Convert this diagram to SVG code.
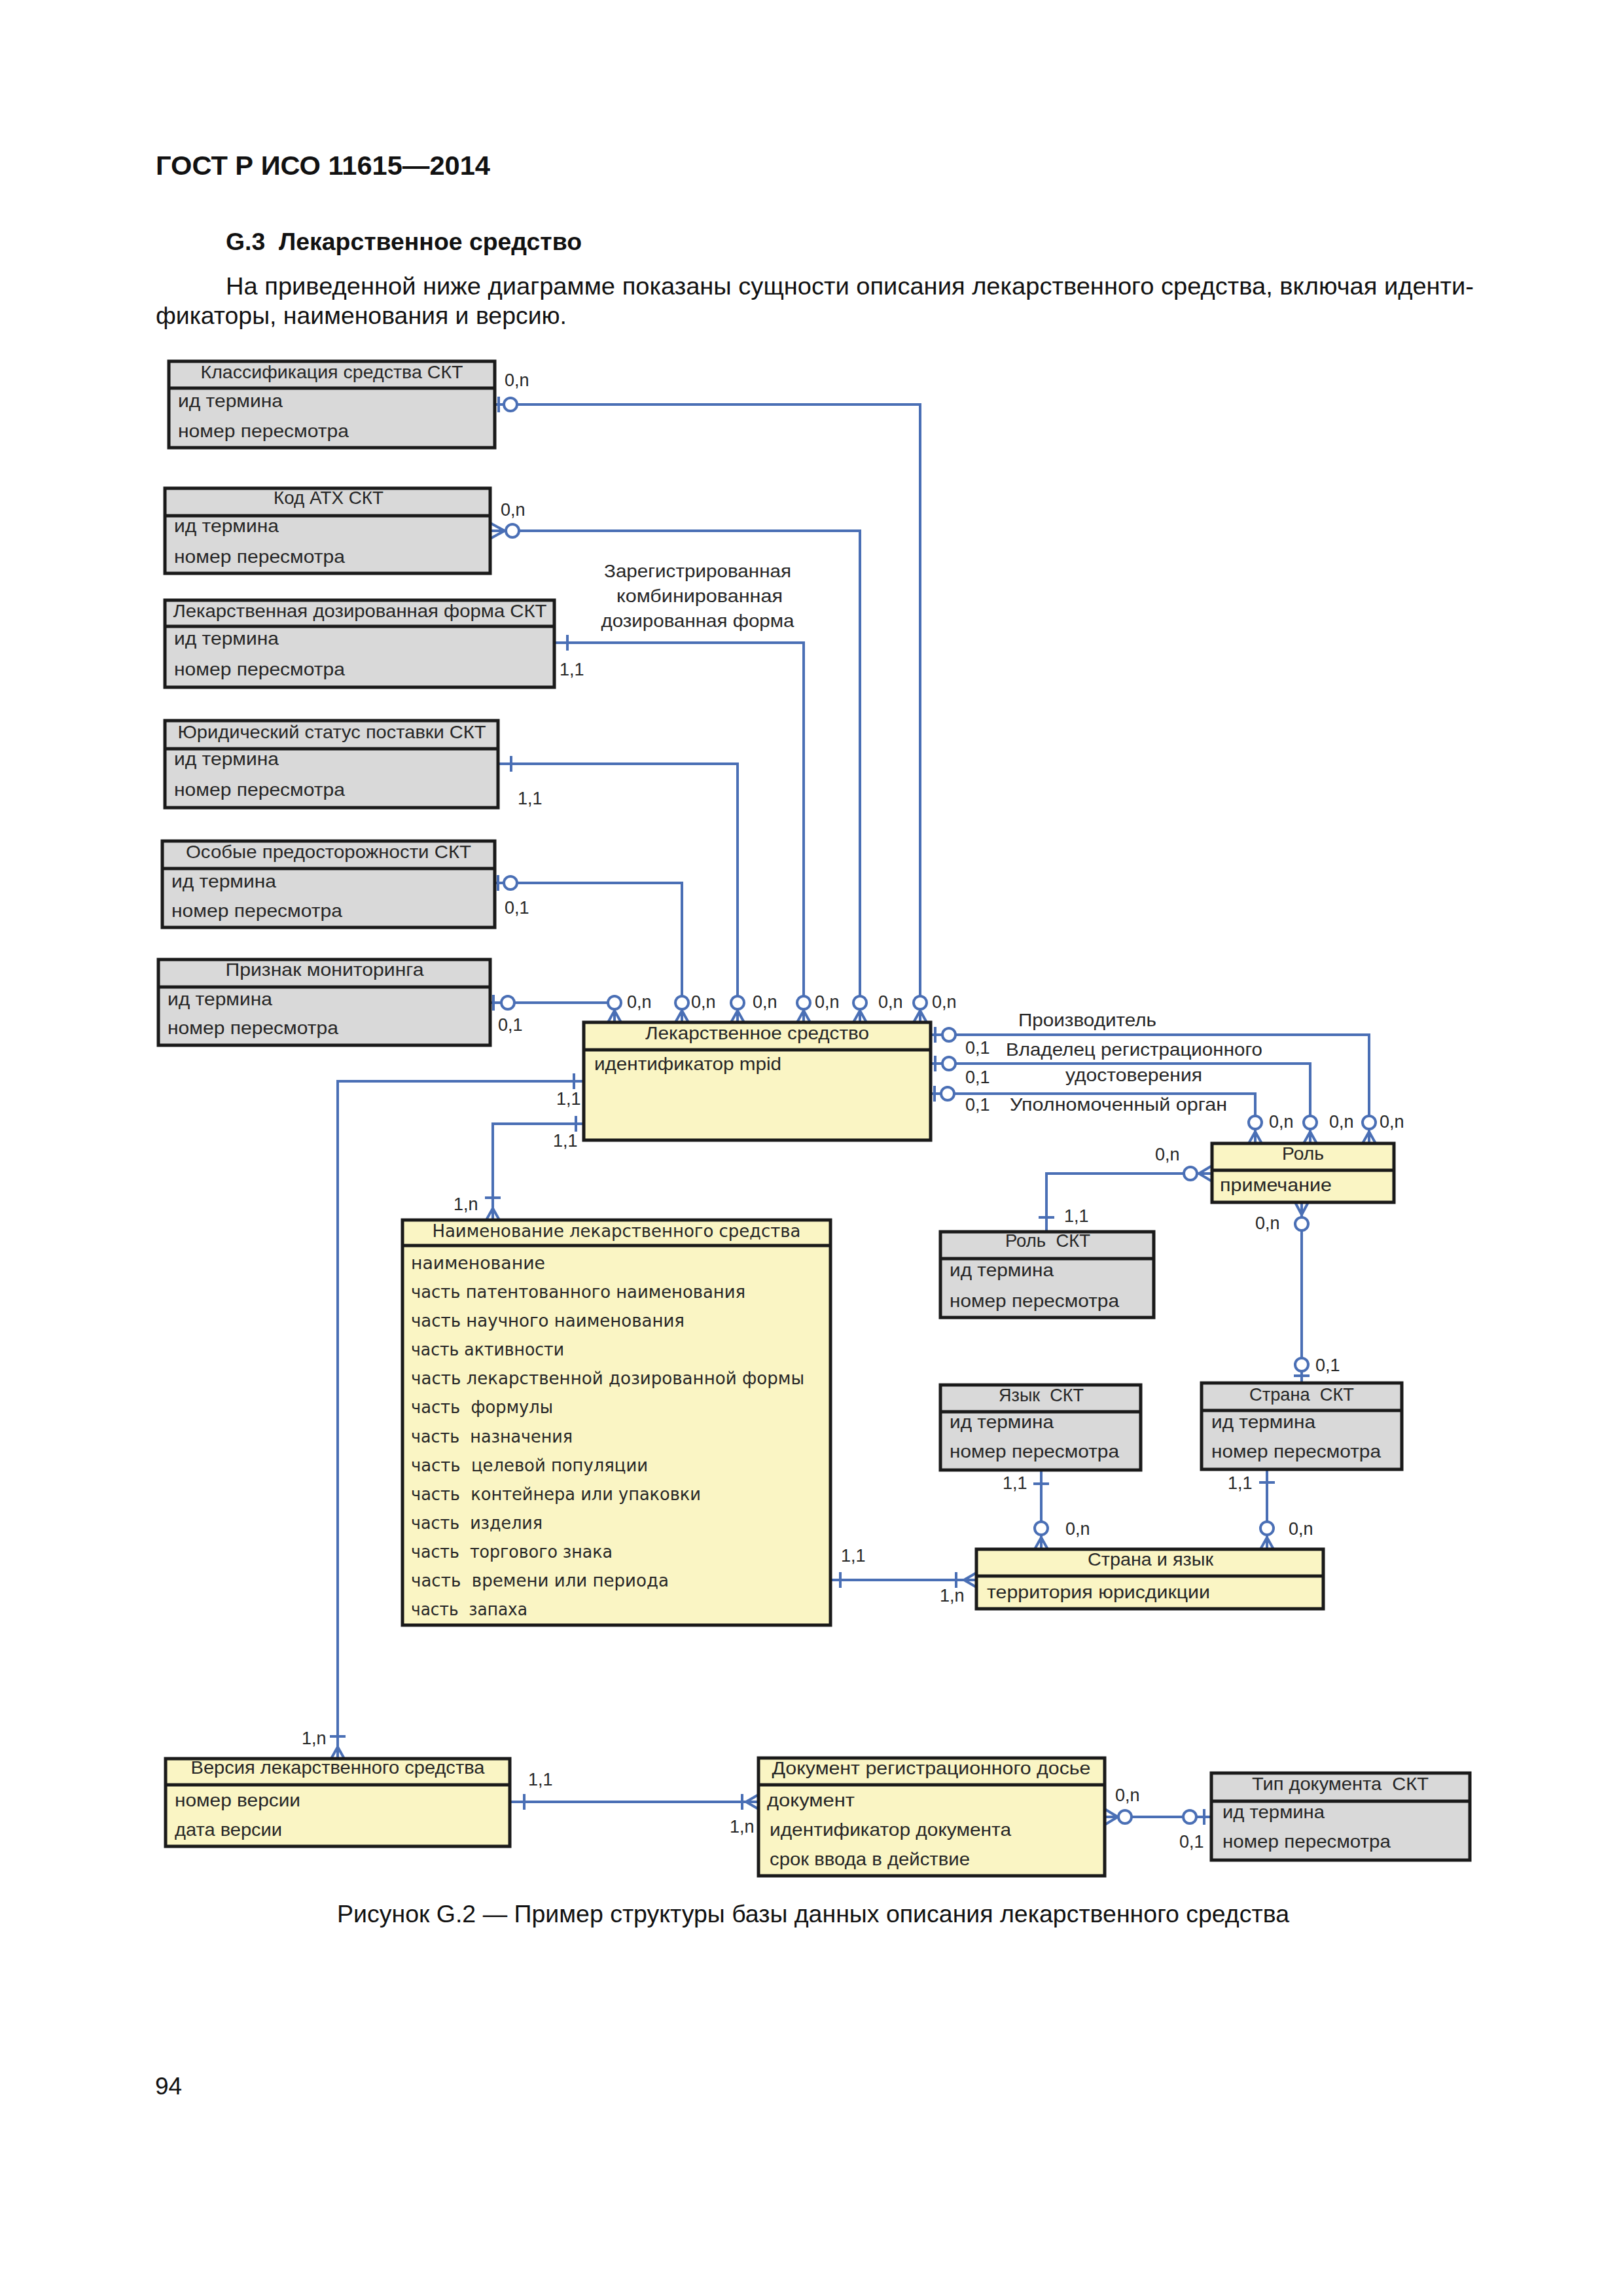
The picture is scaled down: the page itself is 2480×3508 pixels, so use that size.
<svg xmlns="http://www.w3.org/2000/svg" width="2480" height="3508" viewBox="0 0 2480 3508">
<style>
.bg{fill:#ffffff}
.eg{fill:#d9d9d9;stroke:#1a1a1a;stroke-width:5}
.ey{fill:#faf5c4;stroke:#1a1a1a;stroke-width:5}
.sep{stroke:#1a1a1a;stroke-width:5}
.con{stroke:#4a6fb5;stroke-width:4;fill:none}
.cir{stroke:#4a6fb5;stroke-width:4;fill:#ffffff}
.t{font-family:"Liberation Sans",Arial,sans-serif;font-size:28px;fill:#262626}
.h{text-anchor:middle}
.n{font-family:"DejaVu Sans",Verdana,sans-serif;font-size:27px;fill:#262626}
.lb{font-family:"Liberation Sans",Arial,sans-serif;font-size:27px;fill:#262626}
.pg{font-family:"Liberation Sans",Arial,sans-serif;fill:#111111}
</style>
<rect class="bg" x="0" y="0" width="2480" height="3508"/>

<g id="page-text">
<text class="pg" x="238" y="267" font-size="41" font-weight="bold" textLength="511" lengthAdjust="spacingAndGlyphs">ГОСТ Р ИСО 11615—2014</text>
<text class="pg" x="345" y="382" font-size="36" font-weight="bold" textLength="544" lengthAdjust="spacingAndGlyphs" xml:space="preserve">G.3  Лекарственное средство</text>
<text class="pg" x="345" y="450" font-size="36" textLength="1907" lengthAdjust="spacingAndGlyphs">На приведенной ниже диаграмме показаны сущности описания лекарственного средства, включая иденти-</text>
<text class="pg" x="238" y="495" font-size="36" textLength="628" lengthAdjust="spacingAndGlyphs">фикаторы, наименования и версию.</text>
<text class="pg" x="515" y="2937" font-size="36" textLength="1455" lengthAdjust="spacingAndGlyphs">Рисунок G.2 — Пример структуры базы данных описания лекарственного средства</text>
<text class="pg" x="237" y="3200" font-size="37">94</text>
</g>

<g id="connectors">
<!-- top entities to ЛС -->
<path class="con" d="M756,618 H1406 V1562"/>
<path class="con" d="M762,606 V630"/>
<path class="con" d="M749,811 H1314 V1562"/>
<path class="con" d="M749,799 L771,811 L749,823"/>
<path class="con" d="M847,982 H1228 V1562"/>
<path class="con" d="M867,970 V994"/>
<path class="con" d="M761,1167 H1127 V1562"/>
<path class="con" d="M781,1155 V1179"/>
<path class="con" d="M756,1349 H1042 V1562"/>
<path class="con" d="M761,1337 V1361"/>
<path class="con" d="M749,1532 H939 V1562"/>
<path class="con" d="M754,1520 V1544"/>
<path class="con" d="M929,1562 L939,1544 L949,1562 M1032,1562 L1042,1544 L1052,1562 M1117,1562 L1127,1544 L1137,1562 M1218,1562 L1228,1544 L1238,1562 M1304,1562 L1314,1544 L1324,1562 M1396,1562 L1406,1544 L1416,1562"/>
<circle class="cir" cx="780" cy="618" r="10"/>
<circle class="cir" cx="783" cy="811" r="10"/>
<circle class="cir" cx="780" cy="1349" r="10"/>
<circle class="cir" cx="776" cy="1532" r="10"/>
<circle class="cir" cx="939" cy="1532" r="10"/>
<circle class="cir" cx="1042" cy="1532" r="10"/>
<circle class="cir" cx="1127" cy="1532" r="10"/>
<circle class="cir" cx="1228" cy="1532" r="10"/>
<circle class="cir" cx="1314" cy="1532" r="10"/>
<circle class="cir" cx="1406" cy="1532" r="10"/>
<!-- ЛС to Роль -->
<path class="con" d="M1422,1581 H2092 V1747"/>
<path class="con" d="M1429,1569 V1593"/>
<path class="con" d="M1422,1625 H2002 V1747"/>
<path class="con" d="M1429,1613 V1637"/>
<path class="con" d="M1422,1671 H1918 V1747"/>
<path class="con" d="M1428,1659 V1683"/>
<path class="con" d="M1908,1747 L1918,1729 L1928,1747 M1992,1747 L2002,1729 L2012,1747 M2082,1747 L2092,1729 L2102,1747"/>
<circle class="cir" cx="1450" cy="1581" r="10"/>
<circle class="cir" cx="1450" cy="1625" r="10"/>
<circle class="cir" cx="1448" cy="1671" r="10"/>
<circle class="cir" cx="1918" cy="1715" r="10"/>
<circle class="cir" cx="2002" cy="1715" r="10"/>
<circle class="cir" cx="2092" cy="1715" r="10"/>
<!-- Роль to Роль СКТ -->
<path class="con" d="M1852,1793 H1599 V1882"/>
<path class="con" d="M1852,1781 L1832,1793 L1852,1805"/>
<path class="con" d="M1587,1860 H1611"/>
<circle class="cir" cx="1819" cy="1793" r="10"/>
<!-- Роль to Страна СКТ -->
<path class="con" d="M1989,1837 V2113"/>
<path class="con" d="M1979,1837 L1989,1856 L1999,1837"/>
<path class="con" d="M1977,2102 H2001"/>
<circle class="cir" cx="1989" cy="1870" r="10"/>
<circle class="cir" cx="1989" cy="2085" r="10"/>
<!-- Язык / Страна to Страна и язык -->
<path class="con" d="M1591,2246 V2367"/>
<path class="con" d="M1579,2267 H1603"/>
<path class="con" d="M1581,2367 L1591,2349 L1601,2367"/>
<circle class="cir" cx="1591" cy="2335" r="10"/>
<path class="con" d="M1936,2245 V2367"/>
<path class="con" d="M1924,2265 H1948"/>
<path class="con" d="M1926,2367 L1936,2349 L1946,2367"/>
<circle class="cir" cx="1936" cy="2335" r="10"/>
<!-- Наименование to Страна и язык -->
<path class="con" d="M1269,2414 H1492"/>
<path class="con" d="M1284,2402 V2426"/>
<path class="con" d="M1461,2402 V2426"/>
<path class="con" d="M1492,2403 L1473,2414 L1492,2425"/>
<!-- ЛС to Наименование -->
<path class="con" d="M892,1717 H753 V1864"/>
<path class="con" d="M880,1705 V1729"/>
<path class="con" d="M741,1830 H765"/>
<path class="con" d="M743,1864 L753,1846 L763,1864"/>
<!-- ЛС to Версия -->
<path class="con" d="M892,1652 H516 V2687"/>
<path class="con" d="M877,1640 V1664"/>
<path class="con" d="M504,2653 H528"/>
<path class="con" d="M506,2687 L516,2669 L526,2687"/>
<!-- Версия to Документ -->
<path class="con" d="M779,2753 H1159"/>
<path class="con" d="M801,2741 V2765"/>
<path class="con" d="M1134,2741 V2765"/>
<path class="con" d="M1159,2742 L1140,2753 L1159,2764"/>
<!-- Документ to Тип документа -->
<path class="con" d="M1688,2776 H1851"/>
<path class="con" d="M1688,2764 L1708,2776 L1688,2788"/>
<path class="con" d="M1840,2764 V2788"/>
<circle class="cir" cx="1719" cy="2776" r="10"/>
<circle class="cir" cx="1818" cy="2776" r="10"/>
</g>

<g id="labels">
<text class="lb" x="771" y="590">0,n</text>
<text class="lb" x="765" y="788">0,n</text>
<text class="lb" x="855" y="1032">1,1</text>
<text class="lb" x="791" y="1229">1,1</text>
<text class="lb" x="771" y="1396">0,1</text>
<text class="lb" x="761" y="1575">0,1</text>
<text class="lb" x="958" y="1540">0,n</text>
<text class="lb" x="1056" y="1540">0,n</text>
<text class="lb" x="1150" y="1540">0,n</text>
<text class="lb" x="1245" y="1540">0,n</text>
<text class="lb" x="1342" y="1540">0,n</text>
<text class="lb" x="1424" y="1540">0,n</text>
<text class="t h" x="1066" y="882" textLength="286" lengthAdjust="spacingAndGlyphs">Зарегистрированная</text>
<text class="t h" x="1069" y="920" textLength="254" lengthAdjust="spacingAndGlyphs">комбинированная</text>
<text class="t h" x="1066" y="958" textLength="295" lengthAdjust="spacingAndGlyphs">дозированная форма</text>
<text class="t" x="1556" y="1568" textLength="211" lengthAdjust="spacingAndGlyphs">Производитель</text>
<text class="lb" x="1475" y="1610">0,1</text>
<text class="t" x="1537" y="1613" textLength="392" lengthAdjust="spacingAndGlyphs">Владелец регистрационного</text>
<text class="lb" x="1475" y="1655">0,1</text>
<text class="t" x="1628" y="1652" textLength="209" lengthAdjust="spacingAndGlyphs">удостоверения</text>
<text class="lb" x="1475" y="1697">0,1</text>
<text class="t" x="1543" y="1697" textLength="332" lengthAdjust="spacingAndGlyphs">Уполномоченный орган</text>
<text class="lb" x="1939" y="1723">0,n</text>
<text class="lb" x="2031" y="1723">0,n</text>
<text class="lb" x="2108" y="1723">0,n</text>
<text class="lb" x="1765" y="1773">0,n</text>
<text class="lb" x="1626" y="1867">1,1</text>
<text class="lb" x="1918" y="1878">0,n</text>
<text class="lb" x="2010" y="2095">0,1</text>
<text class="lb" x="1532" y="2275">1,1</text>
<text class="lb" x="1628" y="2345">0,n</text>
<text class="lb" x="1876" y="2275">1,1</text>
<text class="lb" x="1969" y="2345">0,n</text>
<text class="lb" x="1285" y="2386">1,1</text>
<text class="lb" x="1436" y="2447">1,n</text>
<text class="lb" x="693" y="1849">1,n</text>
<text class="lb" x="850" y="1688">1,1</text>
<text class="lb" x="845" y="1752">1,1</text>
<text class="lb" x="461" y="2665">1,n</text>
<text class="lb" x="807" y="2728">1,1</text>
<text class="lb" x="1115" y="2800">1,n</text>
<text class="lb" x="1704" y="2752">0,n</text>
<text class="lb" x="1802" y="2823">0,1</text>
</g>

<g id="e-klass">
<rect class="eg" x="258" y="552" width="498" height="132"/>
<line class="sep" x1="258" y1="593" x2="756" y2="593"/>
<text class="t h" x="507" y="578" textLength="401" lengthAdjust="spacingAndGlyphs">Классификация средства СКТ</text>
<text class="t" x="272" y="622" textLength="160" lengthAdjust="spacingAndGlyphs">ид термина</text>
<text class="t" x="272" y="668" textLength="261" lengthAdjust="spacingAndGlyphs">номер пересмотра</text>
</g>

<g id="e-atx">
<rect class="eg" x="252" y="746" width="497" height="130"/>
<line class="sep" x1="252" y1="788" x2="749" y2="788"/>
<text class="t h" x="502" y="770" textLength="168" lengthAdjust="spacingAndGlyphs">Код АТХ СКТ</text>
<text class="t" x="266" y="813" textLength="160" lengthAdjust="spacingAndGlyphs">ид термина</text>
<text class="t" x="266" y="860" textLength="261" lengthAdjust="spacingAndGlyphs">номер пересмотра</text>
</g>

<g id="e-ldf">
<rect class="eg" x="252" y="917" width="595" height="133"/>
<line class="sep" x1="252" y1="957" x2="847" y2="957"/>
<text class="t h" x="550" y="943" textLength="571" lengthAdjust="spacingAndGlyphs">Лекарственная дозированная форма СКТ</text>
<text class="t" x="266" y="985" textLength="160" lengthAdjust="spacingAndGlyphs">ид термина</text>
<text class="t" x="266" y="1032" textLength="261" lengthAdjust="spacingAndGlyphs">номер пересмотра</text>
</g>

<g id="e-jur">
<rect class="eg" x="252" y="1101" width="509" height="133"/>
<line class="sep" x1="252" y1="1144" x2="761" y2="1144"/>
<text class="t h" x="507" y="1128" textLength="471" lengthAdjust="spacingAndGlyphs">Юридический статус поставки СКТ</text>
<text class="t" x="266" y="1169" textLength="160" lengthAdjust="spacingAndGlyphs">ид термина</text>
<text class="t" x="266" y="1216" textLength="261" lengthAdjust="spacingAndGlyphs">номер пересмотра</text>
</g>

<g id="e-osob">
<rect class="eg" x="248" y="1285" width="508" height="132"/>
<line class="sep" x1="248" y1="1327" x2="756" y2="1327"/>
<text class="t h" x="502" y="1311" textLength="436" lengthAdjust="spacingAndGlyphs">Особые предосторожности СКТ</text>
<text class="t" x="262" y="1356" textLength="160" lengthAdjust="spacingAndGlyphs">ид термина</text>
<text class="t" x="262" y="1401" textLength="261" lengthAdjust="spacingAndGlyphs">номер пересмотра</text>
</g>

<g id="e-monit">
<rect class="eg" x="242" y="1466" width="507" height="131"/>
<line class="sep" x1="242" y1="1508" x2="749" y2="1508"/>
<text class="t h" x="496" y="1491" textLength="303" lengthAdjust="spacingAndGlyphs">Признак мониторинга</text>
<text class="t" x="256" y="1536" textLength="160" lengthAdjust="spacingAndGlyphs">ид термина</text>
<text class="t" x="256" y="1580" textLength="261" lengthAdjust="spacingAndGlyphs">номер пересмотра</text>
</g>

<g id="e-ls">
<rect class="ey" x="892" y="1562" width="530" height="180"/>
<line class="sep" x1="892" y1="1604" x2="1422" y2="1604"/>
<text class="t h" x="1157" y="1588" textLength="342" lengthAdjust="spacingAndGlyphs">Лекарственное средство</text>
<text class="t" x="908" y="1635" textLength="286" lengthAdjust="spacingAndGlyphs">идентификатор mpid</text>
</g>

<g id="e-rol">
<rect class="ey" x="1852" y="1747" width="278" height="90"/>
<line class="sep" x1="1852" y1="1788" x2="2130" y2="1788"/>
<text class="t h" x="1991" y="1772" textLength="64" lengthAdjust="spacingAndGlyphs">Роль</text>
<text class="t" x="1864" y="1820" textLength="171" lengthAdjust="spacingAndGlyphs">примечание</text>
</g>

<g id="e-rolskt">
<rect class="eg" x="1437" y="1882" width="326" height="131"/>
<line class="sep" x1="1437" y1="1923" x2="1763" y2="1923"/>
<text class="t h" x="1601" y="1905" textLength="130" lengthAdjust="spacingAndGlyphs" xml:space="preserve">Роль  СКТ</text>
<text class="t" x="1451" y="1950" textLength="159" lengthAdjust="spacingAndGlyphs">ид термина</text>
<text class="t" x="1451" y="1997" textLength="259" lengthAdjust="spacingAndGlyphs">номер пересмотра</text>
</g>

<g id="e-naim">
<rect class="ey" x="615" y="1864" width="654" height="619"/>
<line class="sep" x1="615" y1="1903" x2="1269" y2="1903"/>
<text class="n h" x="942" y="1890" font-size="26" textLength="563" lengthAdjust="spacingAndGlyphs">Наименование лекарственного средства</text>
<text class="n" x="628" y="1939" textLength="205" lengthAdjust="spacingAndGlyphs">наименование</text>
<text class="n" x="628" y="1983" textLength="511" lengthAdjust="spacingAndGlyphs">часть патентованного наименования</text>
<text class="n" x="628" y="2027" textLength="418" lengthAdjust="spacingAndGlyphs">часть научного наименования</text>
<text class="n" x="628" y="2071" textLength="234" lengthAdjust="spacingAndGlyphs">часть активности</text>
<text class="n" x="628" y="2115" textLength="601" lengthAdjust="spacingAndGlyphs">часть лекарственной дозированной формы</text>
<text class="n" x="628" y="2159" textLength="217" lengthAdjust="spacingAndGlyphs" xml:space="preserve">часть  формулы</text>
<text class="n" x="628" y="2204" textLength="247" lengthAdjust="spacingAndGlyphs" xml:space="preserve">часть  назначения</text>
<text class="n" x="628" y="2248" textLength="362" lengthAdjust="spacingAndGlyphs" xml:space="preserve">часть  целевой популяции</text>
<text class="n" x="628" y="2292" textLength="443" lengthAdjust="spacingAndGlyphs" xml:space="preserve">часть  контейнера или упаковки</text>
<text class="n" x="628" y="2336" textLength="201" lengthAdjust="spacingAndGlyphs" xml:space="preserve">часть  изделия</text>
<text class="n" x="628" y="2380" textLength="308" lengthAdjust="spacingAndGlyphs" xml:space="preserve">часть  торгового знака</text>
<text class="n" x="628" y="2424" textLength="394" lengthAdjust="spacingAndGlyphs" xml:space="preserve">часть  времени или периода</text>
<text class="n" x="628" y="2468" textLength="178" lengthAdjust="spacingAndGlyphs" xml:space="preserve">часть  запаха</text>
</g>

<g id="e-jazyk">
<rect class="eg" x="1437" y="2116" width="306" height="130"/>
<line class="sep" x1="1437" y1="2157" x2="1743" y2="2157"/>
<text class="t h" x="1591" y="2141" textLength="130" lengthAdjust="spacingAndGlyphs" xml:space="preserve">Язык  СКТ</text>
<text class="t" x="1451" y="2182" textLength="159" lengthAdjust="spacingAndGlyphs">ид термина</text>
<text class="t" x="1451" y="2227" textLength="259" lengthAdjust="spacingAndGlyphs">номер пересмотра</text>
</g>

<g id="e-strana">
<rect class="eg" x="1836" y="2113" width="306" height="132"/>
<line class="sep" x1="1836" y1="2155" x2="2142" y2="2155"/>
<text class="t h" x="1989" y="2140" textLength="160" lengthAdjust="spacingAndGlyphs" xml:space="preserve">Страна  СКТ</text>
<text class="t" x="1851" y="2182" textLength="159" lengthAdjust="spacingAndGlyphs">ид термина</text>
<text class="t" x="1851" y="2227" textLength="259" lengthAdjust="spacingAndGlyphs">номер пересмотра</text>
</g>

<g id="e-strjaz">
<rect class="ey" x="1492" y="2367" width="530" height="91"/>
<line class="sep" x1="1492" y1="2408" x2="2022" y2="2408"/>
<text class="t h" x="1758" y="2392" textLength="192" lengthAdjust="spacingAndGlyphs">Страна и язык</text>
<text class="t" x="1508" y="2442" textLength="341" lengthAdjust="spacingAndGlyphs">территория юрисдикции</text>
</g>

<g id="e-versia">
<rect class="ey" x="253" y="2687" width="526" height="134"/>
<line class="sep" x1="253" y1="2727" x2="779" y2="2727"/>
<text class="t h" x="516" y="2710" textLength="449" lengthAdjust="spacingAndGlyphs">Версия лекарственного средства</text>
<text class="t" x="267" y="2760" textLength="192" lengthAdjust="spacingAndGlyphs">номер версии</text>
<text class="t" x="267" y="2805" textLength="164" lengthAdjust="spacingAndGlyphs">дата версии</text>
</g>

<g id="e-dok">
<rect class="ey" x="1159" y="2686" width="529" height="180"/>
<line class="sep" x1="1159" y1="2727" x2="1688" y2="2727"/>
<text class="t h" x="1423" y="2711" textLength="487" lengthAdjust="spacingAndGlyphs">Документ регистрационного досье</text>
<text class="t" x="1172" y="2760" textLength="134" lengthAdjust="spacingAndGlyphs">документ</text>
<text class="t" x="1176" y="2805" textLength="369" lengthAdjust="spacingAndGlyphs">идентификатор документа</text>
<text class="t" x="1176" y="2850" textLength="306" lengthAdjust="spacingAndGlyphs">срок ввода в действие</text>
</g>

<g id="e-tipdok">
<rect class="eg" x="1851" y="2709" width="395" height="133"/>
<line class="sep" x1="1851" y1="2752" x2="2246" y2="2752"/>
<text class="t h" x="2048" y="2735" textLength="270" lengthAdjust="spacingAndGlyphs" xml:space="preserve">Тип документа  СКТ</text>
<text class="t" x="1868" y="2778" textLength="156" lengthAdjust="spacingAndGlyphs">ид термина</text>
<text class="t" x="1868" y="2823" textLength="257" lengthAdjust="spacingAndGlyphs">номер пересмотра</text>
</g>
</svg>
